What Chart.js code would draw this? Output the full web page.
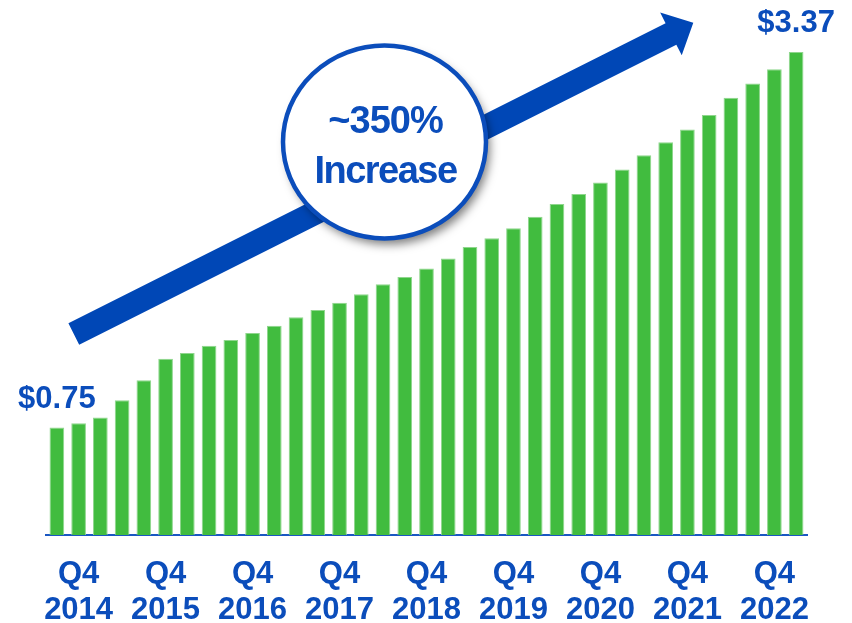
<!DOCTYPE html>
<html>
<head>
<meta charset="utf-8">
<script src="https://cdn.jsdelivr.net/npm/chart.js@4/dist/chart.umd.min.js"></script>
<style>
  html, body { margin: 0; padding: 0; background: #ffffff; }
  #wrap { width: 852px; height: 623px; }
</style>
</head>
<body>
<div id="wrap"><canvas id="c" width="852" height="623"></canvas></div>
<script>
// ---- data ----
const categories = [
  'Q3 2014','Q4 2014',
  'Q1 2015','Q2 2015','Q3 2015','Q4 2015',
  'Q1 2016','Q2 2016','Q3 2016','Q4 2016',
  'Q1 2017','Q2 2017','Q3 2017','Q4 2017',
  'Q1 2018','Q2 2018','Q3 2018','Q4 2018',
  'Q1 2019','Q2 2019','Q3 2019','Q4 2019',
  'Q1 2020','Q2 2020','Q3 2020','Q4 2020',
  'Q1 2021','Q2 2021','Q3 2021','Q4 2021',
  'Q1 2022','Q2 2022','Q3 2022','Q4 2022',
  'Q1 2023'
];
const values = [
  0.75, 0.78, 0.82, 0.94, 1.08, 1.23, 1.27, 1.32, 1.36, 1.41,
  1.46, 1.52, 1.57, 1.62, 1.68, 1.75, 1.80, 1.86, 1.93, 2.01,
  2.07, 2.14, 2.22, 2.31, 2.38, 2.46, 2.55, 2.65, 2.74, 2.83,
  2.93, 3.05, 3.15, 3.25, 3.37
];
const tickLabels = ['Q4 2014','Q4 2015','Q4 2016','Q4 2017','Q4 2018','Q4 2019','Q4 2020','Q4 2021','Q4 2022'];
const calloutText = ['~350%', 'Increase'];

const BLUE_TEXT = '#0b4dbb';
const BLUE_ARROW = '#0047b6';
const GREEN = '#41bc3f';
const FONT = '"Liberation Sans", Arial, Helvetica, sans-serif';

// ---- annotation plugin: value labels on first/last bar, arrow, circle callout ----
const annotations = {
  id: 'annotations',
  afterDatasetsDraw(chart) {
    const ctx = chart.ctx;
    const meta = chart.getDatasetMeta(0);
    ctx.save();
    // value labels
    ctx.fillStyle = BLUE_TEXT;
    ctx.font = 'bold 31px ' + FONT;
    ctx.textAlign = 'center';
    ctx.textBaseline = 'alphabetic';
    [0, values.length - 1].forEach(i => {
      const el = meta.data[i];
      ctx.fillText('$' + values[i].toFixed(2), el.x, el.y - 19.5);
    });

    // arrow
    const A = {x: 73.8, y: 334}, T = {x: 693.3, y: 22.7};
    const dx = T.x - A.x, dy = T.y - A.y, L = Math.hypot(dx, dy);
    const u = {x: dx / L, y: dy / L}, n = {x: -u.y, y: u.x};
    const hw = 12, headLen = 25, headHw = 24;
    const B = {x: T.x - u.x * headLen, y: T.y - u.y * headLen};
    ctx.fillStyle = BLUE_ARROW;
    ctx.beginPath();
    ctx.moveTo(A.x + n.x * hw, A.y + n.y * hw);
    ctx.lineTo(B.x + n.x * hw, B.y + n.y * hw);
    ctx.lineTo(B.x + n.x * headHw, B.y + n.y * headHw);
    ctx.lineTo(T.x, T.y);
    ctx.lineTo(B.x - n.x * headHw, B.y - n.y * headHw);
    ctx.lineTo(B.x - n.x * hw, B.y - n.y * hw);
    ctx.lineTo(A.x - n.x * hw, A.y - n.y * hw);
    ctx.closePath();
    ctx.fill();

    // callout circle
    const cx = 384.5, cy = 142, rx = 101.5, ry = 96.5;
    ctx.save();
    ctx.shadowColor = 'rgba(0,0,0,0.5)';
    ctx.shadowBlur = 10;
    ctx.shadowOffsetX = 4;
    ctx.shadowOffsetY = 6;
    ctx.fillStyle = '#ffffff';
    ctx.beginPath();
    ctx.ellipse(cx, cy, rx, ry, 0, 0, Math.PI * 2);
    ctx.fill();
    ctx.restore();
    ctx.lineWidth = 4.5;
    ctx.strokeStyle = BLUE_TEXT;
    ctx.beginPath();
    ctx.ellipse(cx, cy, rx, ry, 0, 0, Math.PI * 2);
    ctx.stroke();

    ctx.fillStyle = BLUE_TEXT;
    ctx.font = 'bold 38px ' + FONT;
    ctx.textAlign = 'center';
    try { ctx.letterSpacing = '-1px'; } catch (e) {}
    ctx.fillText(calloutText[0], cx + 1, 133);
    try { ctx.letterSpacing = '-1.5px'; } catch (e) {}
    ctx.fillText(calloutText[1], cx + 1, 182.5);
    try { ctx.letterSpacing = '0px'; } catch (e) {}
    ctx.restore();
  }
};

new Chart(document.getElementById('c'), {
  type: 'bar',
  data: {
    labels: categories,
    datasets: [{
      data: values,
      backgroundColor: GREEN,
      borderColor: '#8fd68d',
      borderWidth: {left: 1, right: 1, top: 1, bottom: 0},
      borderSkipped: 'bottom',
      barPercentage: 0.675,
      categoryPercentage: 1.0
    }]
  },
  options: {
    responsive: false,
    devicePixelRatio: 1,
    animation: false,
    layout: { padding: { left: 46, right: 45, top: 4.7, bottom: 0 } },
    plugins: { legend: { display: false }, tooltip: { enabled: false } },
    scales: {
      x: {
        z: 1,
        grid: { display: false, drawTicks: false, tickLength: 0 },
        border: { display: true, color: '#1a57c2', width: 2 },
        afterFit(scale) { scale.height = 88; },
        ticks: {
          autoSkip: false,
          maxRotation: 0,
          padding: 21,
          color: BLUE_TEXT,
          font: { family: FONT, weight: 'bold', size: 31, lineHeight: 36 / 31 },
          callback(val, idx) {
            const c = categories[idx];
            if (tickLabels.includes(c)) {
              const parts = c.split(' ');
              return [parts[0], parts[1]];
            }
            return '';
          }
        }
      },
      y: { display: false, min: 0, max: 3.7 }
    }
  },
  plugins: [annotations]
});
</script>
</body>
</html>
